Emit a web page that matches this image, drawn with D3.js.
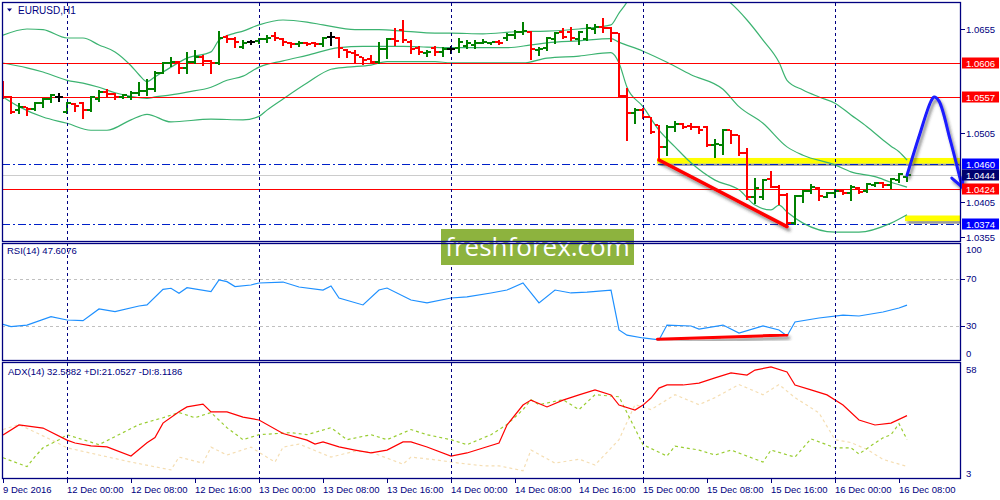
<!DOCTYPE html>
<html><head><meta charset="utf-8">
<script src="https://cdn.jsdelivr.net/npm/d3@7"></script>
<style>body{margin:0;background:#fff;overflow:hidden}svg{display:block;font-family:"Liberation Sans",Arial,sans-serif}</style>
</head><body><svg id="c" width="1000" height="500"></svg>
<script>
// ---------------- DATA ----------------
const symbol = "EURUSD,H1";
const barTimes = d3.timeHour.range(new Date(2016,11,9,16), new Date(2016,11,10,0))
  .concat(d3.timeHour.range(new Date(2016,11,12,0), new Date(2016,11,16,10)));
const open = [1.0574,1.0557,1.0538,1.0542,1.0540,1.0548,1.0554,1.0557,1.0535,1.0547,
1.0548,1.0538,1.0554,1.0564,1.0561,1.0557,1.0557,1.0563,1.0566,1.0569,
1.0592,1.0606,1.0608,1.0599,1.0608,1.0615,1.0609,1.0606,1.0644,1.0641,
1.0629,1.0636,1.0637,1.0641,1.0645,1.0641,1.0635,1.0634,1.0635,1.0635,
1.0634,1.0644,1.0642,1.0625,1.0621,1.0615,1.0612,1.0608,1.0626,1.0641,
1.0653,1.0636,1.0628,1.0621,1.0628,1.0622,1.0626,1.0627,1.0631,1.0632,
1.0635,1.0635,1.0636,1.0642,1.0646,1.0651,1.0651,1.0625,1.0628,1.0641,
1.0651,1.0651,1.0641,1.0641,1.0655,1.0658,1.0657,1.0649,1.0558,1.0534,
1.0538,1.0528,1.0516,1.0485,1.0514,1.0518,1.0515,1.0514,1.0514,1.0488,
1.0488,1.0510,1.0502,1.0476,1.0413,1.0413,1.0439,1.0427,1.0416,1.0375,
1.0414,1.0422,1.0426,1.0413,1.0419,1.0422,1.0419,1.0426,1.0422,1.0430,
1.0433,1.0430,1.0437,1.0441];
const high = [1.0580,1.0558,1.0548,1.0543,1.0550,1.0556,1.0561,1.0563,1.0550,1.0548,
1.0549,1.0559,1.0567,1.0569,1.0563,1.0561,1.0566,1.0579,1.0583,1.0595,
1.0608,1.0615,1.0609,1.0622,1.0625,1.0618,1.0610,1.0652,1.0647,1.0644,
1.0639,1.0639,1.0642,1.0647,1.0651,1.0642,1.0636,1.0638,1.0636,1.0636,
1.0644,1.0651,1.0644,1.0626,1.0625,1.0615,1.0618,1.0636,1.0642,1.0657,
1.0668,1.0639,1.0631,1.0625,1.0631,1.0629,1.0631,1.0642,1.0639,1.0639,
1.0641,1.0636,1.0639,1.0649,1.0654,1.0665,1.0652,1.0629,1.0644,1.0651,
1.0657,1.0658,1.0652,1.0662,1.0662,1.0671,1.0658,1.0649,1.0570,1.0541,
1.0541,1.0528,1.0517,1.0517,1.0522,1.0520,1.0520,1.0515,1.0515,1.0497,
1.0511,1.0510,1.0502,1.0484,1.0440,1.0439,1.0450,1.0430,1.0419,1.0416,
1.0423,1.0432,1.0427,1.0420,1.0424,1.0424,1.0430,1.0427,1.0433,1.0435,
1.0435,1.0440,1.0447,1.0447];
const low = [1.0556,1.0534,1.0534,1.0531,1.0538,1.0543,1.0550,1.0551,1.0534,1.0537,
1.0527,1.0537,1.0551,1.0557,1.0554,1.0556,1.0554,1.0560,1.0560,1.0566,
1.0592,1.0602,1.0592,1.0592,1.0606,1.0603,1.0592,1.0605,1.0636,1.0629,
1.0628,1.0634,1.0635,1.0636,1.0639,1.0632,1.0629,1.0631,1.0632,1.0631,
1.0631,1.0632,1.0615,1.0615,1.0608,1.0605,1.0606,1.0606,1.0613,1.0632,
1.0636,1.0621,1.0619,1.0616,1.0618,1.0616,1.0621,1.0622,1.0628,1.0628,
1.0635,1.0634,1.0634,1.0639,1.0642,1.0648,1.0612,1.0618,1.0625,1.0635,
1.0642,1.0639,1.0634,1.0639,1.0649,1.0651,1.0638,1.0557,1.0495,1.0520,
1.0527,1.0505,1.0466,1.0473,1.0508,1.0512,1.0511,1.0505,1.0486,1.0471,
1.0475,1.0491,1.0473,1.0410,1.0404,1.0410,1.0427,1.0403,1.0370,1.0374,
1.0406,1.0419,1.0409,1.0412,1.0413,1.0417,1.0409,1.0419,1.0420,1.0429,
1.0427,1.0426,1.0434,1.0436];
const close = [1.0557,1.0535,1.0543,1.0540,1.0548,1.0554,1.0560,1.0557,1.0548,1.0544,
1.0538,1.0557,1.0564,1.0561,1.0557,1.0560,1.0563,1.0566,1.0569,1.0592,
1.0606,1.0608,1.0599,1.0608,1.0615,1.0609,1.0606,1.0642,1.0641,1.0636,
1.0635,1.0636,1.0641,1.0642,1.0642,1.0636,1.0634,1.0635,1.0634,1.0633,
1.0642,1.0644,1.0628,1.0622,1.0618,1.0610,1.0608,1.0626,1.0641,1.0638,
1.0639,1.0626,1.0622,1.0622,1.0622,1.0626,1.0626,1.0636,1.0635,1.0635,
1.0636,1.0636,1.0635,1.0646,1.0651,1.0652,1.0626,1.0626,1.0642,1.0649,
1.0644,1.0642,1.0651,1.0656,1.0658,1.0656,1.0649,1.0558,1.0534,1.0538,
1.0528,1.0507,1.0485,1.0514,1.0518,1.0514,1.0514,1.0510,1.0488,1.0489,
1.0510,1.0502,1.0476,1.0413,1.0426,1.0437,1.0427,1.0416,1.0375,1.0414,
1.0422,1.0427,1.0414,1.0419,1.0422,1.0419,1.0427,1.0420,1.0432,1.0433,
1.0430,1.0439,1.0446,1.0444];

// Bollinger bands (20) read at selected bars
const bbUpperBars = [0,3,5,8,10,12,14,16,17,18,19,21,23,26,27,29,30,32,35,38,40,44,47,50,54,56,60,64,68,72,76,77,78,79,80,82,84,86,88,90,91,93,95,97,98,100,102,104,106,108,110,111,112,113];
const bbUpper = [1.0646,1.0655,1.0654,1.0642,1.0642,1.0632,1.0622,1.0602,1.0589,1.0579,1.0586,1.0600,1.0613,1.0622,1.0639,1.0649,1.0652,1.0661,1.0668,1.0665,1.0661,1.0654,1.0654,1.0652,1.0649,1.0649,1.0648,1.0651,1.0652,1.0655,1.0661,1.0678,1.0694,1.0718,1.0733,1.0743,1.0740,1.0733,1.0718,1.0701,1.0692,1.0668,1.0639,1.0607,1.0581,1.0567,1.0557,1.0548,1.0531,1.0514,1.0495,1.0486,1.0478,1.0466];
const bbMidBars = [0,3,5,8,10,12,14,16,18,19,21,23,26,28,30,32,35,38,42,45,47,50,53,56,60,63,66,68,72,76,77,80,83,86,90,92,95,98,100,104,106,109,111,113];
const bbMid = [1.0606,1.0599,1.0593,1.0581,1.0577,1.0571,1.0563,1.0558,1.0555,1.0557,1.0560,1.0564,1.0571,1.0581,1.0587,1.0600,1.0609,1.0617,1.0628,1.0630,1.0630,1.0630,1.0629,1.0628,1.0628,1.0628,1.0632,1.0635,1.0638,1.0641,1.0636,1.0623,1.0607,1.0589,1.0568,1.0543,1.0519,1.0485,1.0473,1.0459,1.0449,1.0442,1.0434,1.0427];
const bbLowerBars = [0,2,5,8,11,13,16,18,21,26,30,32,33,35,38,41,43,46,48,54,56,60,65,68,72,76,77,78,80,82,84,86,89,92,94,96,97,98,100,104,107,111,113];
const bbLower = [1.0557,1.0543,1.0528,1.0519,1.0509,1.0509,1.0524,1.0532,1.0521,1.0525,1.0524,1.0529,1.0538,1.0554,1.0577,1.0597,1.0600,1.0603,1.0608,1.0608,1.0606,1.0606,1.0606,1.0613,1.0616,1.0621,1.0606,1.0571,1.0543,1.0509,1.0485,1.0462,1.0437,1.0423,1.0401,1.0394,1.0401,1.0391,1.0375,1.0362,1.0362,1.0375,1.0387];

// RSI(14)
const rsiBars = [0,1,3,6,8,10,12,14,17,18,20,21,22,23,26,27,28,29,31,32,35,37,40,41,42,45,47,48,51,53,56,58,61,63,65,67,69,71,73,76,77,78,80,82,83,86,87,90,92,95,97,98,99,102,105,107,110,112,113];
const rsi = [31.2,29.2,30.5,37.7,34.9,34.3,44.3,42.0,46.8,47.7,61.0,61.9,57.6,62.4,59.0,69.0,67.5,63.3,64.7,66.4,67.2,63.0,60.4,63.8,53.6,47.7,60.4,62.1,51.9,49.4,53.6,54.5,57.9,60.4,66.4,49.4,60.4,57.9,58.7,60.4,26.4,22.0,19.6,17.9,30.6,29.8,27.2,30.6,23.8,29.8,26.4,21.3,33.2,36.6,39.1,38.3,41.7,45.1,47.6];

// ADX(14), +DI, -DI
const adxBars = [0,2,5,8,9,11,13,16,18,19,20,22,23,25,26,28,30,32,35,38,39,40,42,44,46,48,50,51,53,56,58,60,62,63,65,66,68,70,72,74,76,77,79,80,81,82,83,85,87,89,91,93,94,96,98,99,101,103,105,107,109,111,113];
const adx = [23.3,28.1,26.6,20.8,19.4,18.0,17.5,13.1,19.5,22.0,29.0,34.5,36.8,38.2,34.4,34.4,31.9,30.5,24.0,20.8,18.9,19.9,17.5,16.0,14.6,16.0,19.9,19.9,17.5,13.1,14.6,17.0,19.4,28.1,37.7,40.1,36.8,40.1,42.6,45.0,42.6,37.7,35.3,37.7,41.1,45.9,47.4,47.4,48.3,50.8,53.2,52.2,54.6,56.1,53.7,47.4,45.0,42.6,37.7,30.5,28.1,29.0,32.6];
const pdiBars = [0,3,4,5,7,8,12,17,20,22,24,26,28,30,32,36,38,41,43,46,48,51,53,56,58,61,63,65,66,67,70,72,74,77,80,83,84,87,89,91,95,96,99,101,104,106,107,109,110,111,112,113];
const pdi = [12.3,8.0,12.8,17.1,21.0,23.4,18.6,28.3,31.6,34.1,31.6,34.1,26.8,21.0,23.4,24.4,23.4,26.8,21.0,23.4,21.0,25.9,23.4,21.0,18.6,23.4,28.3,35.5,40.3,37.9,40.3,35.5,42.7,41.7,18.6,13.1,17.9,16.0,13.6,16.0,10.2,16.0,12.6,21.4,17.1,17.1,14.1,19.4,21.9,23.4,28.7,21.1];
const mdiBars = [0,2,6,8,12,16,21,22,25,26,28,31,32,34,35,37,41,44,46,50,51,54,57,60,62,65,66,69,72,74,77,79,81,84,87,89,92,95,97,99,102,104,106,108,110,112,113];
const mdi = [25.9,28.3,21.0,17.1,13.6,10.2,6.4,12.6,9.7,17.4,13.6,17.4,14.9,10.2,17.4,18.9,12.6,15.5,15.0,9.2,12.6,11.3,9.7,8.4,8.4,6.0,16.0,9.7,11.6,8.8,21.0,37.9,35.5,42.7,37.9,41.3,47.6,42.7,47.6,41.3,33.9,21.0,19.6,16.3,11.5,9.2,8.1];

// levels & annotations
const axisTicks = [1.0655,1.0505,1.0405,1.0355];
const redLevels = [1.0606,1.0557,1.0424];
const blueLevels = [1.0460,1.0374];
const lastPrice = 1.0444;
const yellowZones = [{fromBar:82,lo:1.0461,hi:1.0469},{fromBar:113,lo:1.0378,hi:1.0386}];
const priceTrend = [[82,1.0466],[98,1.0370]];
const rsiTrend = [[81.8,18.6],[98,22.1]];
const forecast = [[113,1.0444],[114.5,1.0500],[116.0,1.0551],[116.4,1.0557],[117.0,1.0551],[118.4,1.0495],[119.9,1.0427]];
const arrowWings = [[118.6,1.0440],[119.9,1.0427],[120.0,1.0442]];
const rsiLevels = [70,30];
const rsiLabels = [100,70,30,0];
const adxLabels = [58,3];
const timeLabels = ["9 Dec 2016","12 Dec 00:00","12 Dec 08:00","12 Dec 16:00","13 Dec 00:00","13 Dec 08:00","13 Dec 16:00","14 Dec 00:00","14 Dec 08:00","14 Dec 16:00","15 Dec 00:00","15 Dec 08:00","15 Dec 16:00","16 Dec 00:00","16 Dec 08:00"];
const timeLabelBars = [0,8,16,24,32,40,48,56,64,72,80,88,96,104,112];
const daySepBars = [8,32,56,80,104];
const rsiTitle = "RSI(14) 47.6076";
const adxTitle = "ADX(14) 32.5882 +DI:21.0527 -DI:8.1186";
const watermark = "freshforex.com";

// ---------------- DRAW ----------------
const svg = d3.select("#c");
const NAVY = "#000080";
const L = 2, R = 961;
const P = {main:[2,241], rsi:[243,360], adx:[362,478]};
const x = d3.scaleLinear().domain([0,113]).range([3,907]);
const y = d3.scaleLinear().domain([1.0355,1.0655]).range([237,29]);
const yr = d3.scaleLinear().domain([0,100]).range([361,243.5]);
const ya = d3.scaleLinear().domain([3,58]).range([477,363]);

const defs = svg.append("defs");
Object.entries(P).forEach(([k,v])=>{
  defs.append("clipPath").attr("id","clip-"+k).append("rect")
    .attr("x",L+1).attr("y",v[0]+1).attr("width",R-L-1).attr("height",v[1]-v[0]-1);
});
const sh = defs.append("filter").attr("id","shadow").attr("x","-20%").attr("y","-20%").attr("width","140%").attr("height","160%");
sh.append("feDropShadow").attr("dx",2).attr("dy",3).attr("stdDeviation",1.6).attr("flood-color","#333").attr("flood-opacity",0.55);

const gMain = svg.append("g").attr("clip-path","url(#clip-main)");
const gRsi = svg.append("g").attr("clip-path","url(#clip-rsi)");
const gAdx = svg.append("g").attr("clip-path","url(#clip-adx)");

// day separators
daySepBars.forEach(b=>{
  svg.append("line").attr("x1",x(b)+0.5).attr("x2",x(b)+0.5).attr("y1",3).attr("y2",478)
    .attr("stroke",NAVY).attr("stroke-width",1).attr("stroke-dasharray","3,3").attr("shape-rendering","crispEdges");
});

// horizontal levels
const hline = (g,p,col,extra)=>{
  const yy = Math.round(y(p))+0.5;
  const l = g.append("line").attr("x1",L).attr("x2",R).attr("y1",yy).attr("y2",yy)
    .attr("stroke",col).attr("stroke-width",1).attr("shape-rendering","crispEdges");
  if(extra) l.attr("stroke-dasharray",extra);
  return l;
};
hline(gMain,lastPrice,"#cccccc");

// yellow zones
yellowZones.forEach(z=>{
  gMain.append("rect").attr("x",x(z.fromBar)-2).attr("width",R-x(z.fromBar)+2)
    .attr("y",y(z.hi)).attr("height",y(z.lo)-y(z.hi))
    .attr("fill","#ffff00").attr("filter","url(#shadow)");
});
blueLevels.forEach(p=>hline(gMain,p,"#0020c8","8,3,2,3"));

// bollinger
const bbLine = (bars,vals)=>d3.line().x((d,i)=>x(bars[i])).y(d=>y(d)).curve(d3.curveMonotoneX)(vals);
[[bbUpperBars,bbUpper],[bbMidBars,bbMid],[bbLowerBars,bbLower]].forEach(([b,v])=>{
  gMain.append("path").attr("d",bbLine(b,v)).attr("fill","none").attr("stroke","#3cb371").attr("stroke-width",1.2);
});
redLevels.forEach(p=>hline(gMain,p,"#ff0000"));

// OHLC bars
open.forEach((o,i)=>{
  const c = close[i];
  const col = c>o ? "#008000" : (c<o ? "#ff0000" : "#000000");
  const cx = Math.round(x(i));
  const yh = Math.round(y(high[i])), yl = Math.round(y(low[i]));
  const yo = Math.round(y(o)), yc = Math.round(y(c));
  const g = gMain.append("g").attr("fill",col);
  g.append("rect").attr("x",cx-1).attr("y",yh).attr("width",2).attr("height",Math.max(2,yl-yh+1));
  g.append("rect").attr("x",cx-4).attr("y",yo-1).attr("width",3).attr("height",2);
  g.append("rect").attr("x",cx+1).attr("y",yc-1).attr("width",3).attr("height",2);
});

// trend line & forecast
gMain.append("line").attr("x1",x(priceTrend[0][0])).attr("y1",y(priceTrend[0][1]))
  .attr("x2",x(priceTrend[1][0])).attr("y2",y(priceTrend[1][1]))
  .attr("stroke","#ff0000").attr("stroke-width",3.5).attr("stroke-linecap","round").attr("filter","url(#shadow)");
const fg = svg.append("g").attr("filter","url(#shadow)");
fg.append("path").attr("d",d3.line().x(d=>x(d[0])).y(d=>y(d[1])).curve(d3.curveCatmullRom.alpha(0.5))(forecast))
  .attr("fill","none").attr("stroke","#1a1aff").attr("stroke-width",3).attr("stroke-linecap","round").attr("stroke-linejoin","round");
fg.append("path").attr("d",d3.line().x(d=>x(d[0])).y(d=>y(d[1]))(arrowWings))
  .attr("fill","none").attr("stroke","#1a1aff").attr("stroke-width",3).attr("stroke-linecap","round").attr("stroke-linejoin","round");

// RSI
rsiLevels.forEach(v=>{
  gRsi.append("line").attr("x1",L).attr("x2",R).attr("y1",Math.round(yr(v))+0.5).attr("y2",Math.round(yr(v))+0.5)
    .attr("stroke","#c0c0c0").attr("stroke-dasharray","3,3").attr("shape-rendering","crispEdges");
});
gRsi.append("path").attr("d",d3.line().x((d,i)=>x(rsiBars[i])).y(d=>yr(d))(rsi))
  .attr("fill","none").attr("stroke","#1e90ff").attr("stroke-width",1.2);
gRsi.append("line").attr("x1",x(rsiTrend[0][0])).attr("y1",yr(rsiTrend[0][1]))
  .attr("x2",x(rsiTrend[1][0])).attr("y2",yr(rsiTrend[1][1]))
  .attr("stroke","#ff0000").attr("stroke-width",3).attr("stroke-linecap","round").attr("filter","url(#shadow)");

// ADX
gAdx.append("path").attr("d",d3.line().x((d,i)=>x(mdiBars[i])).y(d=>ya(d))(mdi))
  .attr("fill","none").attr("stroke","#f5deb3").attr("stroke-width",1.2).attr("stroke-dasharray","3,3");
gAdx.append("path").attr("d",d3.line().x((d,i)=>x(pdiBars[i])).y(d=>ya(d))(pdi))
  .attr("fill","none").attr("stroke","#9acd32").attr("stroke-width",1.2).attr("stroke-dasharray","3,3");
gAdx.append("path").attr("d",d3.line().x((d,i)=>x(adxBars[i])).y(d=>ya(d))(adx))
  .attr("fill","none").attr("stroke","#ff0000").attr("stroke-width",1.2);

// watermark
svg.append("rect").attr("x",441).attr("y",229).attr("width",193).attr("height",36).attr("fill","#8db33e");
svg.append("text").attr("x",537.5).attr("y",256).attr("text-anchor","middle").attr("fill","#fff")
  .attr("font-size",26).attr("font-family","'Open Sans','Liberation Sans',Arial,sans-serif").text(watermark);

// frames
Object.values(P).forEach(v=>{
  svg.append("rect").attr("x",L+0.5).attr("y",v[0]+0.5).attr("width",R-L-1).attr("height",v[1]-v[0])
    .attr("fill","none").attr("stroke",NAVY).attr("stroke-width",1.3);
});

// titles
const T = (xx,yy,t,opt={})=>svg.append("text").attr("x",xx).attr("y",yy).attr("fill",opt.fill||NAVY)
  .attr("font-size",opt.fs||9.5).attr("text-anchor",opt.anchor||"start").text(t);
svg.append("path").attr("d","M7,8.5L12,8.5L9.5,11.5Z").attr("fill",NAVY);
T(18,14,symbol,{fs:10});
T(7,254,rsiTitle);
T(8,375,adxTitle);

// price axis
const axG = svg.append("g");
axisTicks.forEach(p=>{
  const yy = Math.round(y(p))+0.5;
  axG.append("line").attr("x1",R).attr("x2",R+4).attr("y1",yy).attr("y2",yy).attr("stroke",NAVY);
  T(966,yy+3.5,p.toFixed(4));
});
const boxes = redLevels.map(p=>({p,c:"#ff0000"})).concat(blueLevels.map(p=>({p,c:"#0000ff"}))).concat([{p:lastPrice,c:"#00006e"}]);
boxes.forEach(b=>{
  const yy = Math.round(y(b.p));
  axG.append("rect").attr("x",962).attr("y",yy-5.5).attr("width",37).attr("height",11).attr("fill",b.c);
  T(966,yy+3.5,b.p.toFixed(4),{fill:"#fff"});
});
// RSI axis
rsiLabels.forEach(v=>{
  const yy = v===100 ? 249 : (v===0 ? 353 : yr(v));
  T(966,yy+3.5,String(v));
  if(v===70||v===30) axG.append("line").attr("x1",R).attr("x2",R+4).attr("y1",Math.round(yr(v))+0.5).attr("y2",Math.round(yr(v))+0.5).attr("stroke",NAVY);
});
adxLabels.forEach(v=>{
  const yy = v===58 ? 369 : 473;
  T(966,yy+3.5,String(v));
});
// time axis
timeLabels.forEach((t,i)=>{
  const xx = Math.round(x(timeLabelBars[i]))+0.5;
  axG.append("line").attr("x1",xx).attr("x2",xx).attr("y1",478).attr("y2",483).attr("stroke",NAVY);
  T(xx-0.5,493,t);
});
</script></body></html>
